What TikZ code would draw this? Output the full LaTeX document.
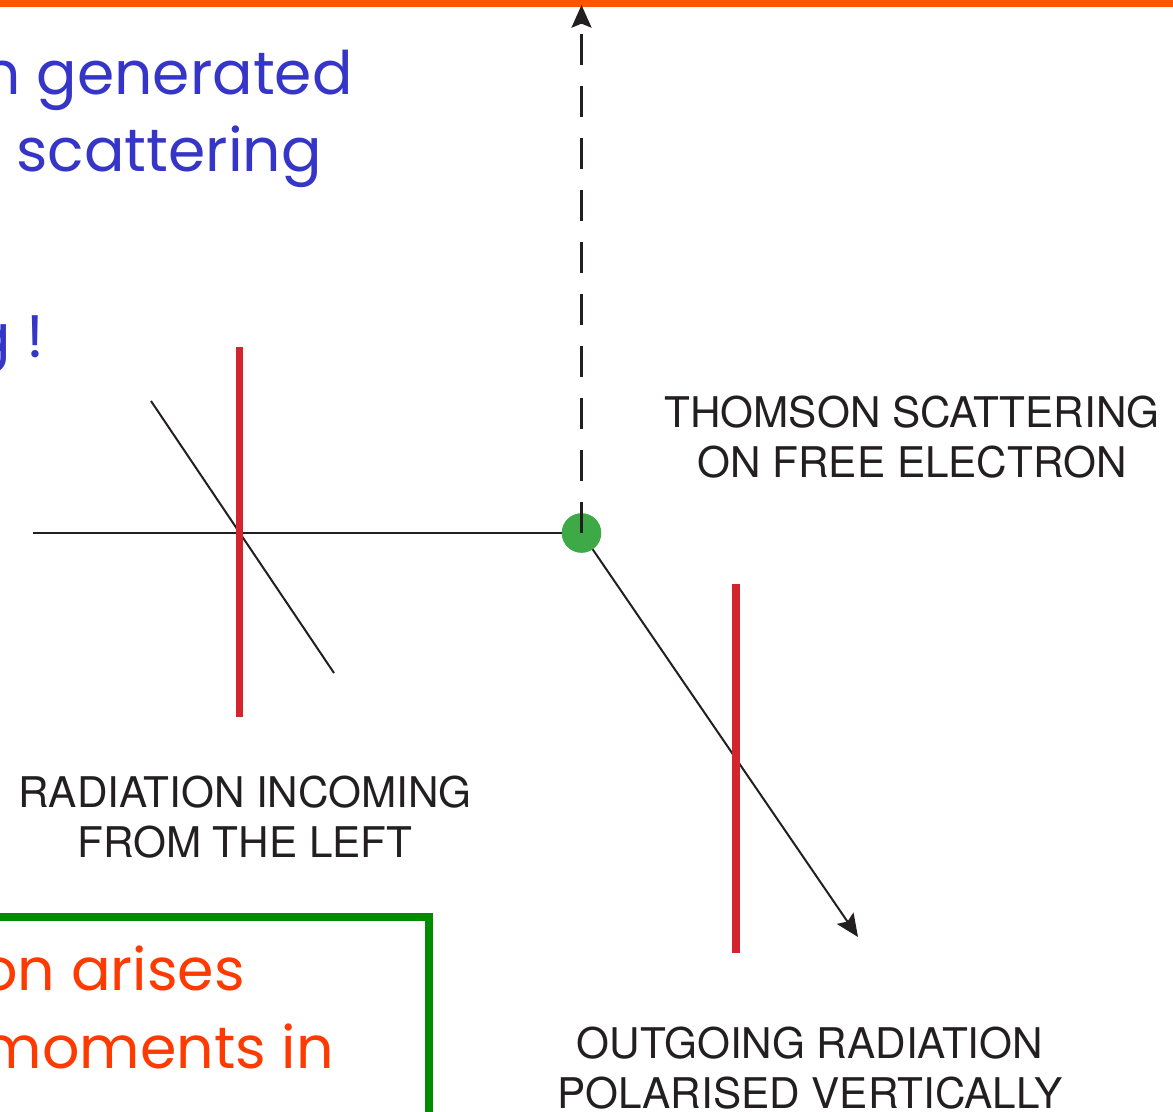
\documentclass[tikz,border=0pt]{standalone}
\usepackage{fontspec}
\setmainfont{TeX Gyre Heros}
\newfontfamily\handfont{Poppins}
\usetikzlibrary{arrows.meta}
\definecolor{toporange}{HTML}{FF5500}
\definecolor{handblue}{HTML}{3535C8}
\definecolor{handred}{HTML}{FF3A00}
\definecolor{boxgreen}{HTML}{008C00}
\definecolor{dotgreen}{HTML}{3DAA47}
\definecolor{polred}{HTML}{D4242E}
\definecolor{ink}{HTML}{231F20}
\tikzset{
  label/.style={font=\fontsize{31.7}{37.5}\selectfont, text=ink, align=center, inner sep=0pt},
  handblue/.style={font=\handfont\fontsize{45}{58}\selectfont, text=handblue, inner sep=0pt, anchor=base east},
  handred/.style={font=\handfont\fontsize{44}{58}\selectfont, text=handred, inner sep=0pt, anchor=base east},
  ray/.style={draw=ink, line width=1.5pt},
  polbar/.style={draw=polred, line width=5.6pt},
  dotstyle/.style={circle, fill=dotgreen, minimum size=29.5pt, inner sep=0pt},
  tipstyle/.style={-{Stealth[length=17pt, width=15pt, inset=3pt]}}
}
\begin{document}
\begin{tikzpicture}[x=0.75pt, y=-0.75pt]
\useasboundingbox (0,0) rectangle (1173,1112);
\clip (0,0) rectangle (1173,1112);
% top orange rule
\coordinate (topL) at (-5,3.5);
\coordinate (topR) at (1180,3.5);
\draw[draw=toporange, line width=5.4pt] (topL) -- (topR);
% handwritten blue text
\node[handblue] (b1) at (353,95) {n generated};
\node[handblue] (b2) at (322,172) {scattering};
\node[handblue] (b3) at (45,357) {g !};
% green box with red text
\coordinate (gbA) at (-20,917);
\coordinate (gbB) at (428.5,917);
\coordinate (gbC) at (428.5,1130);
\draw[draw=boxgreen, line width=6pt] (gbA) -- (gbB) -- (gbC);
\node[handred] (r1) at (245,990) {on arises};
\node[handred] (r2) at (334,1068) {moments in};
% incoming radiation
\coordinate (inL) at (33,533);
\coordinate (dA) at (151,401);
\coordinate (dB) at (334,673);
\node[dotstyle] (e) at (581.5,533) {};
\draw[ray] (inL) -- (e.west);
\draw[ray] (dA) -- (dB);
\coordinate (p1t) at (239.5,347);
\coordinate (p1b) at (239.5,717);
\draw[polbar] (p1t) -- (p1b);
% outgoing radiation
\coordinate (outT) at (858,937);
\draw[ray, tipstyle, shorten <=14.6pt] (e.center) -- (outT);
\coordinate (p2t) at (736,584);
\coordinate (p2b) at (736,953);
\draw[polbar] (p2t) -- (p2b);
% dot on top, dashed upward arrow
\node[dotstyle] (etop) at (e) {};
\coordinate (upT) at (581.5,5);
\draw[ray, line width=1.7pt, dash pattern=on 23pt off 16pt, tipstyle] (etop.center) -- (upT);
% labels
\node[label] (thomson) at (912,437) {THOMSON SCATTERING\\ON FREE ELECTRON};
\node[label] (incoming) at (245,817) {RADIATION INCOMING\\FROM THE LEFT};
\node[label] (outgoing) at (810,1068) {OUTGOING RADIATION\\POLARISED VERTICALLY};
\end{tikzpicture}
\end{document}
